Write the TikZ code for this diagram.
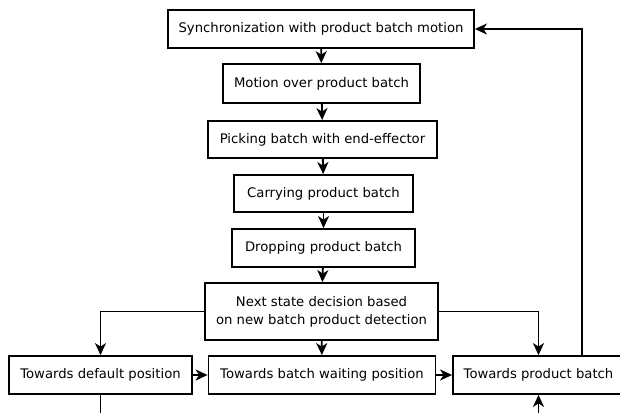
\documentclass[tikz,border=0pt]{standalone}
\usepackage{fontspec}
\setmainfont{DejaVu Sans}
\usetikzlibrary{arrows.meta}
\begin{document}
\begin{tikzpicture}[x=1pt,y=-1pt,
  box/.style={draw, line width=1.8pt, inner sep=0pt, minimum height=38pt,
    align=center, font=\fontsize{13.2}{18}\selectfont},
  conn/.style={line width=1.8pt, -{Stealth[length=12pt,width=11pt,inset=3.5pt]}},
  plain/.style={line width=1.8pt}]
\useasboundingbox (0,0) rectangle (620,412);
\clip (0,0) rectangle (620,412);
\fill[white] (0,0) rectangle (620,412);
\node[box, minimum width=306pt] (b1) at (321,29) {Synchronization with product batch motion};
\node[box, minimum width=197pt, minimum height=39pt] (b2) at (321.5,83.5) {Motion over product batch};
\node[box, minimum width=229pt, minimum height=37pt] (b3) at (322.5,139.5) {Picking batch with end-effector};
\node[box, minimum width=179pt, minimum height=37pt] (b4) at (323.5,193.5) {Carrying product batch};
\node[box, minimum width=183pt] (b5) at (323.5,248) {Dropping product batch};
\node[box, minimum width=233pt, minimum height=57pt] (b6) at (321.5,311.5) {Next state decision based\\on new batch product detection};
\node[box, minimum width=183pt] (b7) at (100.5,375) {Towards default position};
\node[box, minimum width=227pt] (b8) at (322,375) {Towards batch waiting position};
\node[box, minimum width=171pt] (b9) at (538.5,375) {Towards product batch};
\coordinate (lp) at (582,375);
\coordinate (e7) at (100.5,420);
\coordinate (e9) at (538.5,420);
\draw[conn] (b1) -- (b2);
\draw[conn] (b2) -- (b3);
\draw[conn] (b3) -- (b4);
\draw[conn] (b4) -- (b5);
\draw[conn] (b5) -- (b6);
\draw[conn] (b6) -- (b8);
\draw[conn] (b6.west) -| (b7.north);
\draw[conn] (b6.east) -| (b9.north);
\draw[conn] (b7) -- (b8);
\draw[conn] (b8) -- (b9);
\draw[conn] (lp |- b9.north) |- (b1.east);
\draw[plain] (b7) -- (e7);
\draw[conn] (e9) -- (b9);
\end{tikzpicture}
\end{document}
